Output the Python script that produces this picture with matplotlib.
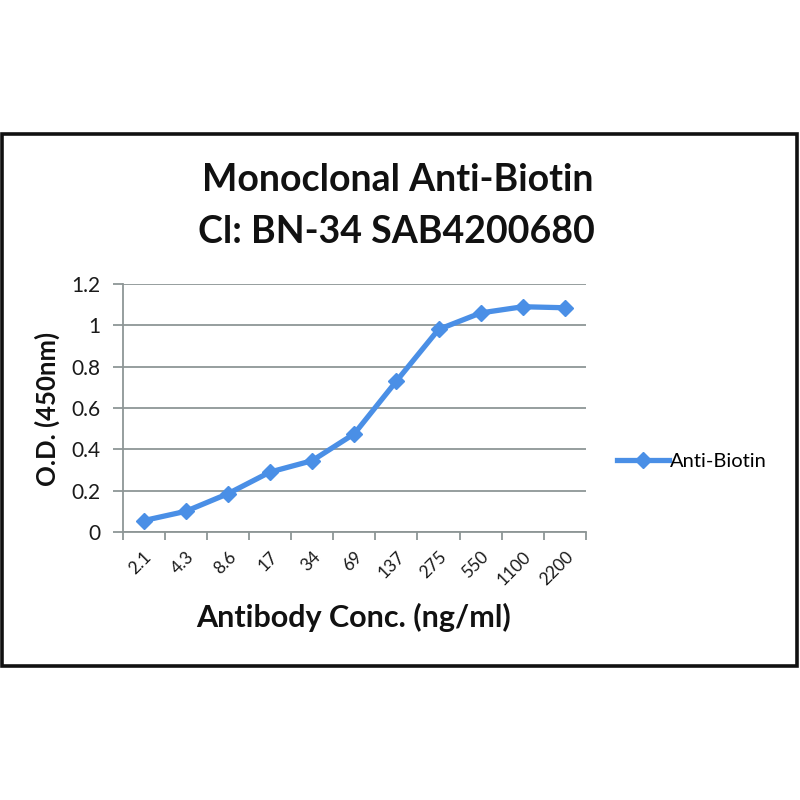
import matplotlib
matplotlib.use("Agg")
import matplotlib.pyplot as plt
from matplotlib.patches import Rectangle

categories = ["2.1", "4.3", "8.6", "17", "34", "69", "137", "275", "550", "1100", "2200"]
od_values = [0.055, 0.10, 0.185, 0.29, 0.345, 0.475, 0.73, 0.98, 1.06, 1.09, 1.085]
y_ticks = [0, 0.2, 0.4, 0.6, 0.8, 1.0, 1.2]
y_tick_labels = ["0", "0.2", "0.4", "0.6", "0.8", "1", "1.2"]
series_name = "Anti-Biotin"

FONT = "Lato"
LINE_COLOR = "#4a8fe6"
GRID_COLOR = "#8e9696"

fig = plt.figure(figsize=(8, 8), dpi=100)
fig.patch.set_facecolor("white")

# outer chart frame
fig.patches.append(Rectangle((0.003, 1 - 666 / 800), 0.993, (666 - 134) / 800,
                             transform=fig.transFigure, fill=False,
                             edgecolor="#111111", linewidth=2.6))

ax = fig.add_axes([122.5 / 800, 1 - 532 / 800, (586 - 122.5) / 800, (532 - 284) / 800])
x = list(range(len(categories)))
line, = ax.plot(x, od_values, color=LINE_COLOR, linewidth=3.8, marker="D",
                markersize=8, markeredgecolor=LINE_COLOR, markerfacecolor=LINE_COLOR,
                solid_joinstyle="round", zorder=3)

ax.set_xlim(-0.5, len(categories) - 0.5)
ax.set_ylim(0, 1.2)
ax.set_yticks(y_ticks)
ax.set_yticklabels(y_tick_labels, fontfamily=FONT, fontsize=15, color="#1a1a1a")
ax.set_xticks(x)
ax.set_xticklabels(categories, rotation=45, ha="right", rotation_mode="anchor",
                   fontfamily=FONT, fontsize=12.5, color="#1a1a1a")
ax.set_xticks([i - 0.5 for i in range(len(categories) + 1)], minor=True)
ax.tick_params(axis="x", which="major", length=0, pad=12)
ax.tick_params(axis="x", which="minor", length=6, color=GRID_COLOR, width=1.3, direction="out")
ax.tick_params(axis="y", length=7, color=GRID_COLOR, width=1.3, pad=9)

ax.grid(axis="y", color=GRID_COLOR, linewidth=1.3)
ax.set_axisbelow(True)
for s in ["top", "right"]:
    ax.spines[s].set_visible(False)
for s in ["left", "bottom"]:
    ax.spines[s].set_color(GRID_COLOR)
    ax.spines[s].set_linewidth(1.3)

fig.text(0.4975, 1 - 180 / 800, "Monoclonal Anti-Biotin", ha="center", va="center",
         fontfamily=FONT, fontweight="bold", fontsize=27, color="#111111")
fig.text(0.495, 1 - 232 / 800, "Cl: BN-34 SAB4200680", ha="center", va="center",
         fontfamily=FONT, fontweight="bold", fontsize=27, color="#111111")
fig.text(354 / 800, 1 - 617 / 800, "Antibody Conc. (ng/ml)", ha="center", va="center",
         fontfamily=FONT, fontweight="bold", fontsize=22, color="#111111")
fig.text(47 / 800, 1 - 409 / 800, "O.D. (450nm)", ha="center", va="center", rotation=90,
         fontfamily=FONT, fontweight="bold", fontsize=18.5, color="#111111")

leg = fig.legend([line], [series_name], loc="center left",
                 bbox_to_anchor=(617 / 800, 1 - 461 / 800), frameon=False,
                 prop={"family": FONT, "size": 14.5}, handlelength=2.6,
                 handletextpad=0.05, borderpad=0, borderaxespad=0)

fig.savefig("out.png", dpi=100, facecolor="white")
